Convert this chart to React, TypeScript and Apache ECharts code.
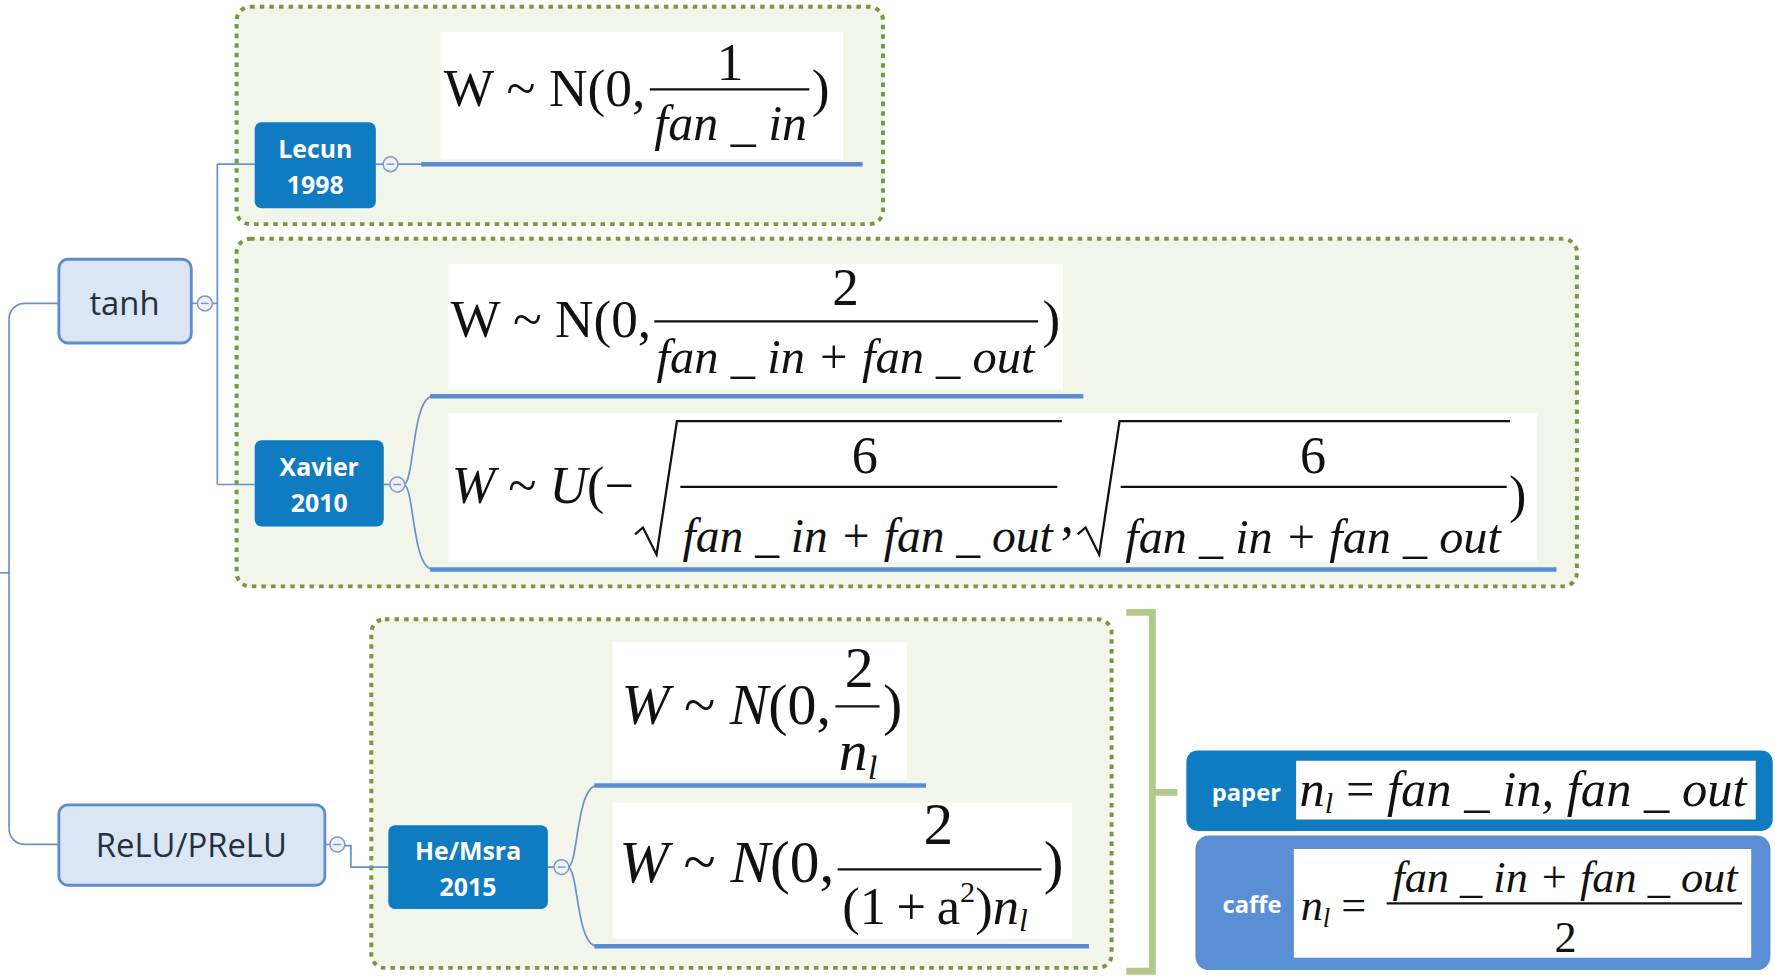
import React, { useEffect, useRef } from 'react';
import * as echarts from 'echarts';

// ---------- content ----------
const topicLabels = ['tanh', 'ReLU/PReLU'];
const methodNames = ['Lecun', 'Xavier', 'He/Msra'];
const methodYears = ['1998', '2010', '2015'];
const noteLabels = ['paper', 'caffe'];

const fanIn = 'fan _ in';
const fanOut = 'fan _ out';
const fanSum = `${fanIn} + ${fanOut}`;

const lecunMain = ['W ~ N(0,'];
const xavierNMain = ['W ~ N(0,'];
const xavierUMain = ['W', ' ~ ', 'U', '(\u2212'];
const heMain = ['W', ' ~ ', 'N', '(0,'];
const heDen2 = ['(1\u2009+\u2009a', '2', ')', 'n', 'l'];
const paperRhs = `${fanIn}, ${fanOut}`;

// ---------- layout helpers (reference drawn in 1568-wide units) ----------
const W = 1775;
const H = 977;
const S = 1775 / 1568;
const SERIF = '"Liberation Serif", "Times New Roman", serif';
const SANS = '"Open Sans", "Noto Sans", sans-serif';
const C = 0.3375;

let _ctx: CanvasRenderingContext2D | null = null;
function mw(t: string, size: number, it?: boolean) {
  if (!_ctx) _ctx = document.createElement('canvas').getContext('2d');
  _ctx!.font = `${it ? 'italic ' : ''}${size}px ${SERIF}`;
  return _ctx!.measureText(t).width;
}
function st(x: number, base: number, t: string, size: number, it?: boolean, align = 'left') {
  return {
    type: 'text', x, y: base - C * size,
    style: { text: t, fontFamily: SERIF, fontSize: size, fontStyle: it ? 'italic' : 'normal', fill: '#111', align, verticalAlign: 'middle' },
  };
}
type Run = { t: string; it?: boolean; k?: number; dy?: number };
function layRuns(out: any[], x0: number, x1: number | null, base: number, items: Run[], size0 = 48) {
  let size = size0;
  if (x1 != null) {
    let tot = 0;
    items.forEach((r) => (tot += mw(r.t, 100 * (r.k ?? 1), r.it)));
    size = (100 * (x1 - x0)) / tot;
  }
  let x = x0;
  for (const r of items) {
    const s = size * (r.k ?? 1);
    out.push(st(x, base + (r.dy ?? 0) * size, r.t, s, r.it));
    x += mw(r.t, s, r.it);
  }
  return size;
}
function ln(x1: number, y1: number, x2: number, y2: number, stroke: string, lineWidth: number) {
  return { type: 'line', shape: { x1, y1, x2, y2 }, style: { stroke, lineWidth, lineCap: 'butt' } };
}
function rc(x: number, y: number, w: number, h: number, r: number, fill: string, stroke?: string, lw = 0, dash?: number[]) {
  return { type: 'rect', shape: { x, y, width: w, height: h, r }, style: { fill, stroke: stroke || 'none', lineWidth: lw, lineDash: dash } };
}
function bez(x1: number, y1: number, cx1: number, cy1: number, cx2: number, cy2: number, x2: number, y2: number, stroke: string, lw: number) {
  return { type: 'bezierCurve', shape: { x1, y1, cpx1: cx1, cpy1: cy1, cpx2: cx2, cpy2: cy2, x2, y2 }, style: { stroke, lineWidth: lw, fill: 'none' } };
}
function collapse(cx: number, cy: number) {
  return [
    { type: 'circle', shape: { cx, cy, r: 6.5 }, style: { fill: '#eef2fa', stroke: '#7f98c9', lineWidth: 1.3 } },
    ln(cx - 3.5, cy, cx + 3.5, cy, '#7f98c9', 1.3),
  ];
}
function radical(x0: number, top: number, bottom: number, x1: number) {
  return {
    type: 'polyline',
    shape: { points: [[x0, bottom - 18], [x0 + 7, bottom - 24], [x0 + 19, bottom], [x0 + 37, top], [x1, top]] },
    style: { stroke: '#111', lineWidth: 2, fill: 'none' },
  };
}
function sans(x: number, y: number, t: string, size: number, fill: string, bold = true) {
  return { type: 'text', x, y, style: { text: t, fontFamily: SANS, fontSize: size, fontWeight: bold ? 'bold' : 'normal', fill, align: 'center', verticalAlign: 'middle' } };
}

const LINE = '#6a8fcc';
const THICK = '#5b8bd0';
const DARK = '#0f7bc0';
const LIGHT = '#5a8fd6';
const BFILL = '#f2f5ea';
const BSTROKE = '#7b9640';
const DOT = [4, 4.5];

function build() {
  const o: any[] = [];
  // boundaries
  const bnd = [[209, 6, 571, 192], [209, 211, 1184, 307], [328, 547, 654, 308]];
  bnd.forEach(([x, y, w, h]) => o.push(rc(x, y, w, h, 12, BFILL, BSTROKE, 3.5, DOT)));

  // root connector
  o.push(ln(0, 506, 8, 506, LINE, 1.5));
  o.push(ln(52, 268, 22, 268, LINE, 1.5));
  o.push(bez(22, 268, 14, 268, 8, 274, 8, 282, LINE, 1.5));
  o.push(ln(8, 282, 8, 732, LINE, 1.5));
  o.push(bez(8, 732, 8, 740, 14, 746, 22, 746, LINE, 1.5));
  o.push(ln(22, 746, 52, 746, LINE, 1.5));

  // tanh branch
  o.push(ln(169, 268, 175, 268, LINE, 1.5));
  o.push(ln(187, 268, 192, 268, LINE, 1.5));
  o.push(ln(192, 145, 192, 428, LINE, 1.5));
  o.push(ln(192, 145, 225, 145, LINE, 1.5));
  o.push(ln(192, 428, 225, 428, LINE, 1.5));
  // Lecun
  o.push(ln(332, 145, 339, 145, LINE, 1.5));
  o.push(ln(351, 145, 372, 145, LINE, 1.5));
  // Xavier brace
  o.push(ln(339, 428, 345, 428, LINE, 1.5));
  o.push(bez(357, 428, 366, 425, 364, 352, 382, 350, LINE, 1.5));
  o.push(bez(357, 428, 366, 431, 364, 501, 382, 503, LINE, 1.5));
  // ReLU branch
  o.push(ln(287, 746, 292, 746, LINE, 1.5));
  o.push({ type: 'polyline', shape: { points: [[304, 747], [310, 747], [310, 766], [343, 766]] }, style: { stroke: LINE, lineWidth: 1.5, fill: 'none' } });
  // He brace
  o.push(ln(484, 766, 490, 766, LINE, 1.5));
  o.push(bez(502, 766, 511, 763, 509, 696, 527, 694, LINE, 1.5));
  o.push(bez(502, 766, 511, 769, 509, 834, 527, 836, LINE, 1.5));

  // topic boxes
  o.push(rc(52, 229, 117, 74, 8, '#dbe6f4', '#5f8bcf', 2.5));
  o.push(sans(110, 267, topicLabels[0], 29, '#243040', false));
  o.push(rc(52, 711, 235, 71, 8, '#dbe6f4', '#5f8bcf', 2.5));
  o.push(sans(169, 746, topicLabels[1], 29, '#243040', false));

  // method boxes
  const mb = [[225, 108, 107, 76], [225, 389, 114, 76], [343, 729, 141, 74]];
  mb.forEach(([x, y, w, h], i) => {
    o.push(rc(x, y, w, h, 6, DARK));
    o.push(sans(x + w / 2, y + h / 2 - 15.5, methodNames[i], 22, '#ffffff'));
    o.push(sans(x + w / 2, y + h / 2 + 16.5, methodYears[i], 22, '#ffffff'));
  });

  // collapse circles
  [[181, 268], [345, 145], [351, 428], [298, 746], [496, 766]].forEach(([x, y]) => o.push(...collapse(x, y)));

  // formula backgrounds
  const wr = [[389, 28, 356, 113], [396, 233, 543, 111], [396, 365, 962, 131], [541, 567, 260, 122], [541, 709, 406, 120]];
  wr.forEach(([x, y, w, h]) => o.push(rc(x, y, w, h, 0, '#ffffff')));

  // underlines
  o.push(ln(372, 145, 762, 145, THICK, 4));
  o.push(ln(380, 350, 957, 350, THICK, 4));
  o.push(ln(380, 503, 1375, 503, THICK, 4));
  o.push(ln(525, 694, 818, 694, THICK, 4));
  o.push(ln(525, 836, 962, 836, THICK, 4));

  // ---- F1: Lecun ----
  const s1 = layRuns(o, 392, 571, 94, lecunMain.map((t) => ({ t })));
  o.push(ln(574, 79, 715, 79, '#111', 2));
  o.push(st(645, 71, '1', s1, false, 'center'));
  layRuns(o, 578, 713, 124, [{ t: fanIn, it: true }]);
  o.push(st(717, 94, ')', s1));

  // ---- F2: Xavier normal ----
  const s2 = layRuns(o, 398, 576, 298, xavierNMain.map((t) => ({ t })));
  o.push(ln(578, 284, 917, 284, '#111', 2));
  o.push(st(747, 269, '2', s2, false, 'center'));
  layRuns(o, 580, 914, 330, [{ t: fanSum, it: true }]);
  o.push(st(921, 298, ')', s2));

  // ---- F3: Xavier uniform ----
  const s3 = layRuns(o, 399, 560, 444, xavierUMain.map((t, i) => ({ t, it: i === 0 || i === 2 })));
  o.push(radical(561, 372, 490, 938));
  o.push(ln(601, 430, 934, 430, '#111', 2));
  o.push(st(764, 418, '6', s3, false, 'center'));
  layRuns(o, 603, 930, 488, [{ t: fanSum, it: true }]);
  o.push(st(937, 470, ',', s3));
  o.push(radical(952, 372, 490, 1334));
  o.push(ln(990, 430, 1331, 430, '#111', 2));
  o.push(st(1160, 418, '6', s3, false, 'center'));
  layRuns(o, 994, 1326, 488, [{ t: fanSum, it: true }]);
  o.push(st(1333, 452, ')', s3));

  // ---- F4: He paper ----
  const s4 = layRuns(o, 549, 734, 640, heMain.map((t, i) => ({ t, it: i === 0 || i === 2 })));
  o.push(ln(738, 624, 777, 624, '#111', 2));
  o.push(st(759, 607, '2', s4, false, 'center'));
  layRuns(o, 741, null, 680, [{ t: 'n', it: true }, { t: 'l', it: true, k: 0.6, dy: 0.15 }], s4);
  o.push(st(780, 640, ')', s4));

  // ---- F5: He PReLU ----
  const s5 = layRuns(o, 547, 737, 779, heMain.map((t, i) => ({ t, it: i === 0 || i === 2 })));
  o.push(ln(740, 768, 920, 768, '#111', 2));
  o.push(st(829, 746, '2', s5, false, 'center'));
  layRuns(o, 744, 908, 816, [
    { t: heDen2[0] }, { t: heDen2[1], k: 0.58, dy: -0.4 }, { t: heDen2[2] },
    { t: heDen2[3], it: true }, { t: heDen2[4], it: true, k: 0.6, dy: 0.15 },
  ]);
  o.push(st(922, 779, ')', s5));

  // green bracket
  const G = '#b3c98a';
  o.push({ type: 'polyline', shape: { points: [[995, 541], [1018, 541], [1018, 858], [995, 858]] }, style: { stroke: G, lineWidth: 6, fill: 'none' } });
  o.push(ln(1018, 700, 1040, 700, G, 6));

  // paper / caffe notes
  o.push(rc(1048, 663, 518, 71, 10, DARK));
  o.push(rc(1145, 672, 406, 52, 0, '#ffffff'));
  o.push(sans(1101, 700, noteLabels[0], 21, '#ffffff'));
  layRuns(o, 1148, 1543, 712, [
    { t: 'n', it: true }, { t: 'l', it: true, k: 0.6, dy: 0.15 }, { t: ' = ' }, { t: paperRhs, it: true },
  ]);

  o.push(rc(1056, 738, 508, 119, 12, LIGHT));
  o.push(rc(1143, 750, 404, 96, 0, '#ffffff'));
  o.push(sans(1106, 799, noteLabels[1], 21, '#ffffff'));
  const sc = layRuns(o, 1230, 1535, 788, [{ t: fanSum, it: true }]);
  layRuns(o, 1149, null, 813, [{ t: 'n', it: true }, { t: 'l', it: true, k: 0.6, dy: 0.15 }, { t: ' =' }], sc);
  o.push(ln(1225, 798, 1539, 798, '#111', 2));
  o.push(st(1383, 841, '2', sc, false, 'center'));

  return o;
}

export default function App() {
  const ref = useRef<HTMLDivElement>(null);
  useEffect(() => {
    document.body.style.margin = '0';
    const chart = echarts.init(ref.current!, null, { renderer: 'svg' });
    chart.setOption({
      animation: false,
      backgroundColor: '#ffffff',
      graphic: [{ type: 'group', x: 0, y: 0, scaleX: S, scaleY: S, children: build() }],
    });
    return () => chart.dispose();
  }, []);
  return <div ref={ref} style={{ width: W, height: H }} />;
}
